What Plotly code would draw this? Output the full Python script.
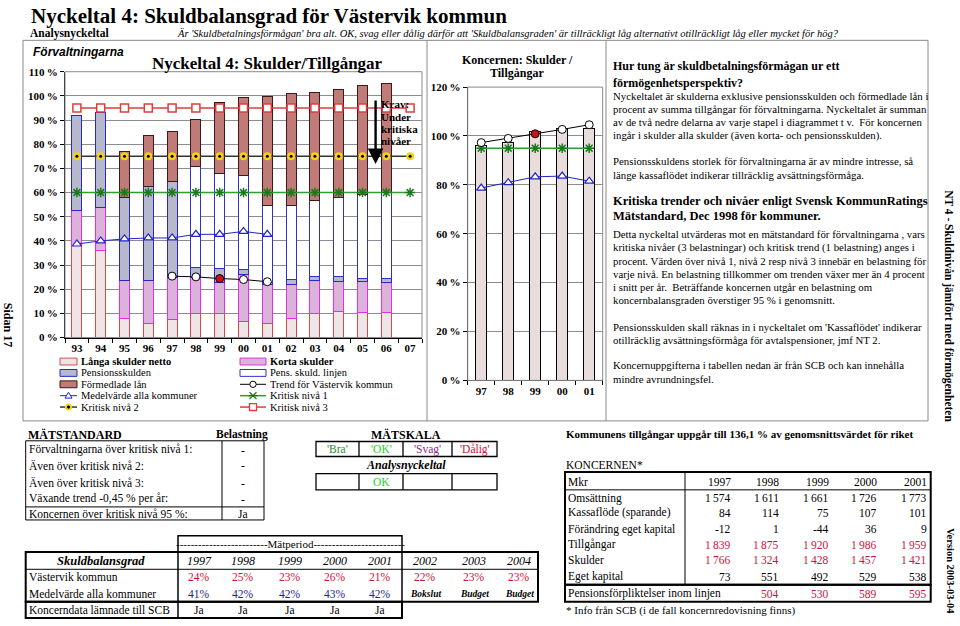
import plotly.graph_objects as go

W, H = 960, 626
SERIF = "Liberation Serif"
SANS = "Liberation Sans"

# ---------------- data ----------------
years_main = ['93', '94', '95', '96', '97', '98', '99', '00', '01', '02', '03', '04', '05', '06', '07']
langa_skulder = [38.0, 36.0, 7.9, 5.7, 7.5, 9.9, 9.9, 6.8, 5.7, 7.9, 9.9, 10.9, 10.3, 10.3, None]
korta_skulder = [14.5, 18.0, 15.8, 18.0, 17.3, 14.9, 12.9, 19.4, 16.4, 14.2, 13.8, 12.3, 12.8, 12.5, None]
pensionsskulden = [39.5, 39.3, 34.3, 38.7, 39.9, 4.1, 5.8, 2.0, 0.8, 1.8, 1.4, 1.9, 1.4, 1.7, None]
pens_skuld_linjen = [None, None, None, None, None, 42.0, 39.4, 38.9, 31.8, 30.8, 31.6, 32.7, 34.5, 35.6, None]
formedlade_lan = [None, None, 19.0, 21.0, 20.5, 19.3, 29.4, 32.3, 45.1, 46.1, 44.8, 44.7, 45.2, 45.1, None]

years_medel = ['93', '94', '95', '96', '97', '98', '99', '00', '01']
medelvarde = [38.7, 40.0, 40.8, 41.2, 41.2, 42.7, 42.7, 43.9, 42.7]

years_trend = ['97', '98', '99', '00', '01']
trend_vastervik = [25.4, 25.1, 24.4, 24.0, 23.1]

kritisk_1 = [60, 60, 60, 60, 60, 60, 60, 60, 60, 60, 60, 60, 60, 60, 60]
kritisk_2 = [75, 75, 75, 75, 75, 75, 75, 75, 75, 75, 75, 75, 75, 75, 75]
kritisk_3 = [95, 95, 95, 95, 95, 95, 95, 95, 95, 95, 95, 95, 95, 95, 95]

years_konc = ['97', '98', '99', '00', '01']
konc_skulder = [96.0, 97.5, 102.0, 103.0, 102.9]
konc_trend = [97.3, 99.0, 100.9, 102.7, 104.6]
konc_kritisk = [95, 95, 95, 95, 95]
konc_medel = [78.7, 80.9, 83.3, 83.6, 81.5]

tab_years = ['1997', '1998', '1999', '2000', '2001', '2002', '2003', '2004']
tab_vastervik = ['24%', '25%', '23%', '26%', '21%', '22%', '23%', '23%']
tab_medel = ['41%', '42%', '42%', '43%', '42%']
tab_medel_notes = ['Bokslut', 'Budget', 'Budget']
tab_koncerndata = ['Ja', 'Ja', 'Ja', 'Ja', 'Ja']

mst_rows = ['Förvaltningarna över kritisk nivå 1:', 'Även över kritisk nivå 2:',
            'Även över kritisk nivå 3:', 'Växande trend -0,45 % per år:',
            'Koncernen över kritisk nivå 95 %:']
mst_belastning = ['-', '-', '-', '-', 'Ja']

mkr_years = ['1997', '1998', '1999', '2000', '2001']
omsattning = [1574, 1611, 1661, 1726, 1773]
kassaflode = [84, 114, 75, 107, 101]
forandring_ek = [-12, 1, -44, 36, 9]
tillgangar = [1839, 1875, 1920, 1986, 1959]
skulder = [1766, 1324, 1428, 1457, 1421]
eget_kapital = [73, 551, 492, 529, 538]
pensionsforpl = [None, 504, 530, 589, 595]

# ---------------- helpers ----------------
def X(px):
    return px / W

def Y(py):
    return 1 - py / H

annotations = []
shapes = []

def txt(x, y, s, size=11, color='black', anchor='left', family=SERIF, angle=0):
    annotations.append(dict(x=X(x), y=Y(y), xref='paper', yref='paper', text=s,
                            showarrow=False, xanchor=anchor, yanchor='middle',
                            font=dict(family=family, size=size, color=color),
                            textangle=angle, borderpad=0))

def line(x0, y0, x1, y1, color='black', width=1):
    shapes.append(dict(type='line', xref='paper', yref='paper', x0=X(x0), y0=Y(y0),
                       x1=X(x1), y1=Y(y1), line=dict(color=color, width=width)))

def rect(x0, y0, x1, y1, color='black', width=1, fill='rgba(0,0,0,0)'):
    shapes.append(dict(type='rect', xref='paper', yref='paper', x0=X(x0), y0=Y(y0),
                       x1=X(x1), y1=Y(y1), line=dict(color=color, width=width), fillcolor=fill))

def circle(cx, cy, r, color='black', fill='white', width=1):
    shapes.append(dict(type='circle', xref='paper', yref='paper', x0=X(cx - r), y0=Y(cy - r),
                       x1=X(cx + r), y1=Y(cy + r), line=dict(color=color, width=width), fillcolor=fill))

def path(d_pts, color, fill='white', width=1):
    d = 'M ' + ' L '.join(f'{X(a):.5f},{Y(b):.5f}' for a, b in d_pts) + ' Z'
    shapes.append(dict(type='path', xref='paper', yref='paper', path=d,
                       line=dict(color=color, width=width), fillcolor=fill))

# colours
C_LANGA_F, C_LANGA_B = '#eee6e6', '#e04848'
C_KORTA_F, C_KORTA_B = '#dab2da', '#e030e0'
C_PENS_F, C_PENS_B = '#b8b8cc', '#2828c8'
C_LINJ_F, C_LINJ_B = '#ffffff', '#3030d0'
C_FORM_F, C_FORM_B = '#c07a78', '#3a1a1a'
C_RED = '#e03c3c'
C_GREEN = '#2e9e2e'
C_BLUE = '#2222c8'
C_YEL = '#f2d21a'
C_VAL_RED = '#c8143c'
C_VAL_BLUE = '#2020a0'

fig = go.Figure()

# ---------------- main chart ----------------
for vals, f, b in [(langa_skulder, C_LANGA_F, C_LANGA_B), (korta_skulder, C_KORTA_F, C_KORTA_B),
                   (pensionsskulden, C_PENS_F, C_PENS_B), (pens_skuld_linjen, C_LINJ_F, C_LINJ_B),
                   (formedlade_lan, C_FORM_F, C_FORM_B)]:
    fig.add_trace(go.Bar(x=years_main, y=vals, width=0.42, xaxis='x', yaxis='y',
                         marker=dict(color=f, line=dict(color=b, width=1)), showlegend=False,
                         hoverinfo='skip'))

fig.add_trace(go.Scatter(x=years_main, y=kritisk_3, mode='lines+markers', xaxis='x', yaxis='y',
                         line=dict(color=C_RED, width=1.5),
                         marker=dict(symbol='square', size=8, color='white', line=dict(color=C_RED, width=1.5)),
                         showlegend=False))
fig.add_trace(go.Scatter(x=years_main, y=kritisk_2, mode='lines+markers', xaxis='x', yaxis='y',
                         line=dict(color='#333333', width=1.5),
                         marker=dict(symbol='circle', size=8, color=C_YEL, line=dict(width=0)),
                         showlegend=False))
fig.add_trace(go.Scatter(x=years_main, y=kritisk_2, mode='markers', xaxis='x', yaxis='y',
                         marker=dict(symbol='circle', size=3, color='black'), showlegend=False))
fig.add_trace(go.Scatter(x=years_main, y=kritisk_1, mode='lines+markers', xaxis='x', yaxis='y',
                         line=dict(color=C_GREEN, width=1.5),
                         marker=dict(symbol='asterisk-open', size=8, color='#1a7a1a',
                                     line=dict(color='#1a7a1a', width=1.5)),
                         showlegend=False))
fig.add_trace(go.Scatter(x=years_medel, y=medelvarde, mode='lines+markers', xaxis='x', yaxis='y',
                         line=dict(color=C_BLUE, width=1),
                         marker=dict(symbol='triangle-up', size=8, color='white', line=dict(color=C_BLUE, width=1.2)),
                         showlegend=False))
fig.add_trace(go.Scatter(x=years_trend, y=trend_vastervik, mode='lines+markers', xaxis='x', yaxis='y',
                         line=dict(color='black', width=1),
                         marker=dict(symbol='circle', size=8,
                                     color=['white', 'white', '#d01010', 'white', 'white'],
                                     line=dict(color='black', width=1)),
                         showlegend=False))

# ---------------- koncernen chart ----------------
fig.add_trace(go.Bar(x=years_konc, y=konc_skulder, width=0.42, xaxis='x2', yaxis='y2',
                     marker=dict(color='#e8dcdc', line=dict(color='black', width=1)), showlegend=False))
fig.add_trace(go.Scatter(x=years_konc, y=konc_kritisk, mode='lines+markers', xaxis='x2', yaxis='y2',
                         line=dict(color=C_GREEN, width=1.5),
                         marker=dict(symbol='asterisk-open', size=8, color='#1a7a1a',
                                     line=dict(color='#1a7a1a', width=1.5)),
                         showlegend=False))
fig.add_trace(go.Scatter(x=years_konc, y=konc_medel, mode='lines+markers', xaxis='x2', yaxis='y2',
                         line=dict(color=C_BLUE, width=1),
                         marker=dict(symbol='triangle-up', size=8, color='white', line=dict(color=C_BLUE, width=1.2)),
                         showlegend=False))
fig.add_trace(go.Scatter(x=years_konc, y=konc_trend, mode='lines+markers', xaxis='x2', yaxis='y2',
                         line=dict(color='black', width=1),
                         marker=dict(symbol='circle', size=8,
                                     color=['white', 'white', '#d01010', 'white', 'white'],
                                     line=dict(color='black', width=1)),
                         showlegend=False))

# ---------------- page frame ----------------
rect(23, 35, 928, 423, color='#8a8a8a', width=1)
line(427, 35, 427, 423, color='#8a8a8a')
line(606, 35, 606, 423, color='#8a8a8a')

# plot area borders
rect(65, 67, 422, 338, color='#8a8a8a', width=1)
rect(467.7, 82.7, 602.7, 381.7, color='#8a8a8a', width=1)

# ---------------- titles ----------------
txt(30, 10.5, '<b>Nyckeltal 4: Skuldbalansgrad för Västervik kommun</b>', size=21)
txt(29, 28.5, '<b>Analysnyckeltal</b>', size=11.5)
txt(176, 28.5, "<i>Är 'Skuldbetalningsförmågan' bra alt. OK, svag eller dålig därför att "
               "'Skuldbalansgraden' är tillräckligt låg alternativt otillräckligt låg eller mycket för hög?</i>",
    size=10.5)
txt(32, 47, '<b><i>Förvaltningarna</i></b>', size=12, family=SANS)
txt(267, 59, '<b>Nyckeltal 4: Skulder/Tillgångar</b>', size=17, anchor='center')
txt(517, 55, '<b>Koncernen: Skulder /</b>', size=12, anchor='center')
txt(517, 68, '<b>Tillgångar</b>', size=12, anchor='center')

# Krav annotation
for i, s in enumerate(['Krav:', 'Under', 'kritiska', 'nivåer']):
    txt(380, 100 + 12.7 * i, f'<b>{s}</b>', size=11)
annotations.append(dict(x=12.55, y=71.8, xref='x', yref='y', text='', showarrow=True,
                        ax=0, ay=-65, axref='pixel', ayref='pixel', arrowhead=2, arrowsize=1.3,
                        arrowwidth=2.4, arrowcolor='black'))

# ---------------- legend (manual) ----------------
rows = [362.5, 374.1, 385.7, 397.3, 408.9]
LX0, LX1, LT = 60, 77, 80
RX0, RX1, RT = 240, 266, 269
LF = 10.5

def leg_box(x0, x1, y, f, b):
    rect(x0, y - 3.5, x1, y + 3.5, color=b, width=1, fill=f)

leg_box(LX0, LX1, rows[0], C_LANGA_F, C_LANGA_B)
txt(LT, rows[0], '<b>Långa skulder netto</b>', size=LF)
leg_box(LX0, LX1, rows[1], C_PENS_F, C_PENS_B)
txt(LT, rows[1], 'Pensionsskulden', size=LF)
leg_box(LX0, LX1, rows[2], C_FORM_F, C_FORM_B)
txt(LT, rows[2], 'Förmedlade lån', size=LF)
line(LX0, rows[3], LX1, rows[3], color=C_BLUE)
cx = (LX0 + LX1) / 2
path([(cx, rows[3] - 3.5), (cx + 3.5, rows[3] + 2.5), (cx - 3.5, rows[3] + 2.5)], C_BLUE)
txt(LT, rows[3], 'Medelvärde alla kommuner', size=LF)
line(LX0, rows[4], LX1, rows[4], color='#333333', width=1.5)
circle(cx, rows[4], 3.2, color=C_YEL, fill=C_YEL)
circle(cx, rows[4], 1.2, color='black', fill='black')
txt(LT, rows[4], 'Kritisk nivå 2', size=LF)

leg_box(RX0, RX1, rows[0], C_KORTA_F, C_KORTA_B)
txt(RT, rows[0], '<b>Korta skulder</b>', size=LF)
leg_box(RX0, RX1, rows[1], C_LINJ_F, C_LINJ_B)
txt(RT, rows[1], 'Pens. skuld. linjen', size=LF)
rcx = (RX0 + RX1) / 2
line(RX0, rows[2], RX1, rows[2], color='black')
circle(rcx, rows[2], 3.2, color='black', fill='white')
txt(RT, rows[2], 'Trend för Västervik kommun', size=LF)
line(RX0, rows[3], RX1, rows[3], color=C_GREEN, width=1.5)
line(rcx - 3.5, rows[3] - 3.5, rcx + 3.5, rows[3] + 3.5, color='#1a7a1a', width=1.3)
line(rcx - 3.5, rows[3] + 3.5, rcx + 3.5, rows[3] - 3.5, color='#1a7a1a', width=1.3)
line(rcx - 4.5, rows[3], rcx + 4.5, rows[3], color='#1a7a1a', width=1.3)
txt(RT, rows[3], 'Kritisk nivå 1', size=LF)
line(RX0, rows[4], RX1, rows[4], color=C_RED, width=1.5)
rect(rcx - 3.5, rows[4] - 3.5, rcx + 3.5, rows[4] + 3.5, color=C_RED, width=1.3, fill='white')
txt(RT, rows[4], 'Kritisk nivå 3', size=LF)

# ---------------- right text box ----------------
TX = 612
body = 10.8
txt(TX, 61, '<b>Hur tung är skuldbetalningsförmågan ur ett</b>', size=12)
txt(TX, 78, '<b>förmögenhetsperspektiv?</b>', size=12)
for y, s in [(92, 'Nyckeltalet är skulderna exklusive pensionsskulden och förmedlade lån i'),
             (105.3, 'procent av summa tillgångar för förvaltningarna. Nyckeltalet är summan'),
             (118.6, 'av de två nedre delarna av varje stapel i diagrammet t v.  För koncernen'),
             (131.9, 'ingår i skulder alla skulder (även korta- och pensionsskulden).'),
             (158.5, 'Pensionsskuldens storlek för förvaltningarna är av mindre intresse, så'),
             (171.8, 'länge kassaflödet indikerar tillräcklig avsättningsförmåga.'),
             (232.5, 'Detta nyckeltal utvärderas mot en mätstandard för förvaltningarna , vars'),
             (246, 'kritiska nivåer (3 belastningar) och kritisk trend (1 belastning) anges i'),
             (259.5, 'procent. Värden över nivå 1, nivå 2 resp nivå 3 innebär en belastning för'),
             (273, 'varje nivå. En belastning tillkommer om trenden växer mer än 4 procent'),
             (286.5, 'i snitt per år.  Beträffande koncernen utgår en belastning om'),
             (300, 'koncernbalansgraden överstiger 95 % i genomsnitt.'),
             (327, "Pensionsskulden skall räknas in i nyckeltalet om 'Kassaflödet' indikerar"),
             (340.5, 'otillräcklig avsättningsförmåga för avtalspensioner, jmf NT 2.'),
             (366.5, 'Koncernuppgifterna i tabellen nedan är från SCB och kan innehålla'),
             (380, 'mindre avrundningsfel.')]:
    txt(TX, y, s, size=body)
txt(TX, 198.5, '<b>Kritiska trender och nivåer enligt Svensk KommunRatings</b>', size=12.5)
txt(TX, 214, '<b>Mätstandard, Dec 1998 för kommuner.</b>', size=12.5)

# ---------------- MÄTSTANDARD ----------------
txt(27, 437, '<b>MÄTSTANDARD</b>', size=12)
txt(242, 437, '<b>Belastning</b>', size=11.5, anchor='center')
rect(25.7, 443.3, 264, 524)
line(222, 443.3, 222, 524)
line(25.7, 510.7, 264, 510.7)
for y, s, v in zip([452.3, 468.3, 486, 502.5, 518], mst_rows, mst_belastning):
    txt(28, y, s, size=11.5)
    txt(243, y, v, size=11.5, anchor='center')

# MÄTSKALA
txt(406, 437, '<b>MÄTSKALA</b>', size=12, anchor='center')
sx = [316, 359, 403, 452, 497]
rect(sx[0], 444, sx[-1], 459.3, width=1.3)
rect(sx[0], 476.7, sx[-1], 493.3, width=1.3)
for xx in sx[1:-1]:
    line(xx, 444, xx, 459.3, width=1.3)
    line(xx, 476.7, xx, 493.3, width=1.3)
for i, (s, c) in enumerate([("'Bra'", '#2e8b2e'), ("'OK'", '#2ecc2e'), ("'Svag'", '#8e2a8e'), ("'Dålig'", '#cc1030')]):
    txt((sx[i] + sx[i + 1]) / 2, 451.7, s, size=11.5, color=c, anchor='center')
txt(406, 468.3, '<b><i>Analysnyckeltal</i></b>', size=12, anchor='center')
txt((sx[1] + sx[2]) / 2, 485, 'OK', size=11.5, color='#2ecc2e', anchor='center')

# ---------------- Skuldbalansgrad table ----------------
D1, D2, DR = 178, 402, 538
rect(D1, 540, D2, 556.7, width=1.5)
txt((D1 + D2) / 2, 548.3, '-------------------------Mätperiod-------------------------', size=11, anchor='center')
rect(25.7, 556.7, DR, 607.3, width=2)
line(25.7, 574.3, DR, 574.3, width=1)
line(D1, 556.7, D1, 624, width=1.5)
line(D2, 556.7, D2, 624, width=1.5)
rect(25.7, 607.3, D2, 624, width=2)
colx = [199, 243, 290, 335, 380, 425, 474, 519]
txt(101, 565.7, '<b><i>Skuldbalansgrad</i></b>', size=12.5, anchor='center')
for xx, s in zip(colx, tab_years):
    txt(xx, 565.7, f'<i>{s}</i>', size=12, anchor='center')
txt(28, 582.3, 'Västervik kommun', size=11.5)
for xx, s in zip(colx, tab_vastervik):
    txt(xx, 582.3, s, size=11.5, color=C_VAL_RED, anchor='center')
txt(28, 599.3, 'Medelvärde alla kommuner', size=11.5)
for xx, s in zip(colx[:5], tab_medel):
    txt(xx, 599.3, s, size=11.5, color=C_VAL_BLUE, anchor='center')
for xx, s in zip(colx[5:], tab_medel_notes):
    txt(xx, 599.8, f'<b><i>{s}</i></b>', size=9.5, anchor='center')
txt(28, 616, 'Koncerndata lämnade till SCB', size=11.5)
for xx, s in zip(colx[:5], tab_koncerndata):
    txt(xx, 616, s, size=11.5, anchor='center')

# ---------------- Koncernen table ----------------
txt(565, 436.7, '<b>Kommunens tillgångar uppgår till 136,1 % av genomsnittsvärdet för riket</b>', size=11)
txt(565, 468.3, 'KONCERNEN*', size=11.5)
rect(565, 475, 930.7, 590, width=2)
line(565, 493.3, 930.7, 493.3, width=1)
line(685, 475, 685, 590, width=1)
rect(565, 590, 930.7, 607.3, width=2)
mcol = [731.7, 780, 830, 878, 928]

def fmt(v):
    return f'{v:,}'.replace(',', '\u2009')

rows_k = [(485.7, 'Mkr', mkr_years, 'black'),
          (501.7, 'Omsättning', [fmt(v) for v in omsattning], 'black'),
          (516.7, 'Kassaflöde (sparande)', [fmt(v) for v in kassaflode], 'black'),
          (533.5, 'Förändring eget kapital', [fmt(v) for v in forandring_ek], 'black'),
          (549.3, 'Tillgångar', [fmt(v) for v in tillgangar], C_VAL_RED),
          (565, 'Skulder', [fmt(v) for v in skulder], C_VAL_RED),
          (581.7, 'Eget kapital', [fmt(v) for v in eget_kapital], 'black')]
for y, lab, vals, c in rows_k:
    txt(567, y, lab, size=11.5)
    for xx, s in zip(mcol, vals):
        txt(xx, y, s, size=11.5, color=c, anchor='right')
txt(567, 599, 'Pensionsförpliktelser inom linjen', size=11.5)
for xx, v in zip(mcol, pensionsforpl):
    if v is not None:
        txt(xx, 599, fmt(v), size=11.5, color=C_VAL_RED, anchor='right')
txt(565, 616.7, '* Info från SCB (i de fall koncernredovisning finns)', size=11)

# ---------------- side texts ----------------
txt(8, 325, '<b>Sidan 17</b>', size=12, anchor='center', angle=90)
txt(949, 306, '<b>NT 4 - Skuldnivån jämfört med förmögenheten</b>', size=11.5, anchor='center', angle=90)
txt(950, 576, '<b>Version 2003-03-04</b>', size=10.5, anchor='center', angle=90)

# ---------------- layout ----------------
tickf = dict(family=SERIF, size=11, color='black', weight='bold')
fig.update_layout(
    width=W, height=H, margin=dict(l=0, r=0, t=0, b=0),
    paper_bgcolor='white', plot_bgcolor='white', barmode='stack', showlegend=False,
    xaxis=dict(domain=[X(65), X(422)], anchor='y', type='category', categoryorder='array',
               categoryarray=years_main, range=[-0.5, 14.5], tickson='boundaries', ticks='outside',
               ticklen=4, tickcolor='black', showline=True, linecolor='black', showgrid=False,
               tickfont=tickf),
    yaxis=dict(domain=[Y(338), Y(67)], anchor='x', range=[0, 110], dtick=10, ticksuffix='\u2009%',
               showgrid=True, gridcolor='#8c8c8c', gridwidth=1, zeroline=False, showline=True,
               linecolor='black', ticks='outside', ticklen=4, tickcolor='black', tickfont=tickf),
    xaxis2=dict(domain=[X(467.7), X(602.7)], anchor='y2', type='category', categoryorder='array',
                categoryarray=years_konc, range=[-0.5, 4.5], tickson='boundaries', ticks='outside',
                ticklen=4, tickcolor='black', showline=True, linecolor='black', showgrid=False,
                tickfont=tickf),
    yaxis2=dict(domain=[Y(381.7), Y(82.7)], anchor='x2', range=[0, 120], dtick=20, ticksuffix='\u2009%',
                showgrid=True, gridcolor='#8c8c8c', gridwidth=1, zeroline=False, showline=True,
                linecolor='black', ticks='outside', ticklen=4, tickcolor='black', tickfont=tickf),
    annotations=annotations, shapes=shapes,
)

fig.write_html('out.html')
